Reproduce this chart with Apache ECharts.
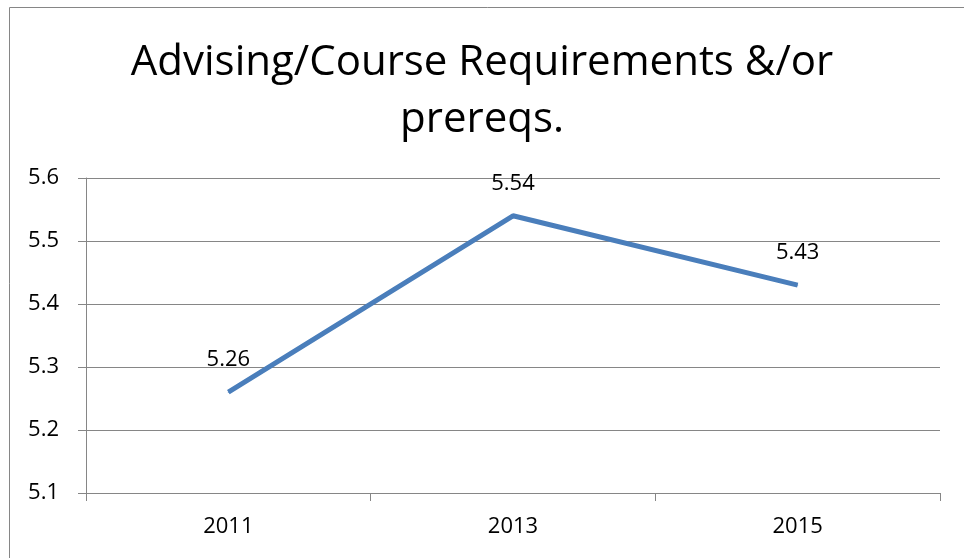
<!DOCTYPE html>
<html>
<head>
<meta charset="utf-8">
<style>
  html, body { margin: 0; padding: 0; background: #fff; }
  #chart { width: 964px; height: 558px; }
</style>
<script src="https://cdn.jsdelivr.net/npm/echarts@6/dist/echarts.min.js"></script>
</head>
<body>
<div id="chart"></div>
<script>
const years = ['2011', '2013', '2015']
const scores = [5.26, 5.54, 5.43]
const titleLines = ['Advising/Course Requirements &/or', 'prereqs.']

const font = 'Open Sans, Noto Sans, sans-serif'
const gray = '#868686'

const chart = echarts.init(document.getElementById('chart'))
chart.setOption({
  animation: false,
  title: {
    text: titleLines.join('\n'),
    left: 'center',
    top: 30,
    textStyle: {
      fontFamily: font,
      fontSize: 42,
      fontWeight: 'normal',
      color: '#000',
      lineHeight: 57
    }
  },
  graphic: [{
    type: 'rect',
    shape: { x: 9.5, y: 7.5, width: 1000, height: 600 },
    style: { fill: 'none', stroke: gray, lineWidth: 1 }
  }],
  grid: {
    left: 86,
    right: 24,
    top: 178,
    bottom: 65
  },
  xAxis: {
    type: 'category',
    data: years,
    boundaryGap: true,
    axisLine: { show: true, lineStyle: { color: gray, width: 1 } },
    axisTick: { show: true, length: 8, lineStyle: { color: gray } },
    axisLabel: { fontFamily: font, fontSize: 22, color: '#000', margin: 23 }
  },
  yAxis: {
    type: 'value',
    min: 5.1,
    max: 5.6,
    interval: 0.1,
    axisLine: { show: true, lineStyle: { color: gray, width: 1 } },
    axisTick: { show: true, inside: false, length: 8, lineStyle: { color: gray } },
    splitLine: { show: true, lineStyle: { color: gray, width: 1 } },
    axisLabel: {
      fontFamily: font,
      fontSize: 22,
      color: '#000',
      margin: 27,
      formatter: v => v.toFixed(1)
    }
  },
  series: [{
    type: 'line',
    data: scores,
    symbol: 'circle',
    symbolSize: 1,
    itemStyle: { color: '#4a7ebb' },
    lineStyle: { color: '#4a7ebb', width: 5 },
    label: {
      show: true,
      position: 'top',
      distance: 21,
      fontFamily: font,
      fontSize: 22,
      color: '#000',
      formatter: p => p.value.toFixed(2)
    }
  }]
})
</script>
</body>
</html>
